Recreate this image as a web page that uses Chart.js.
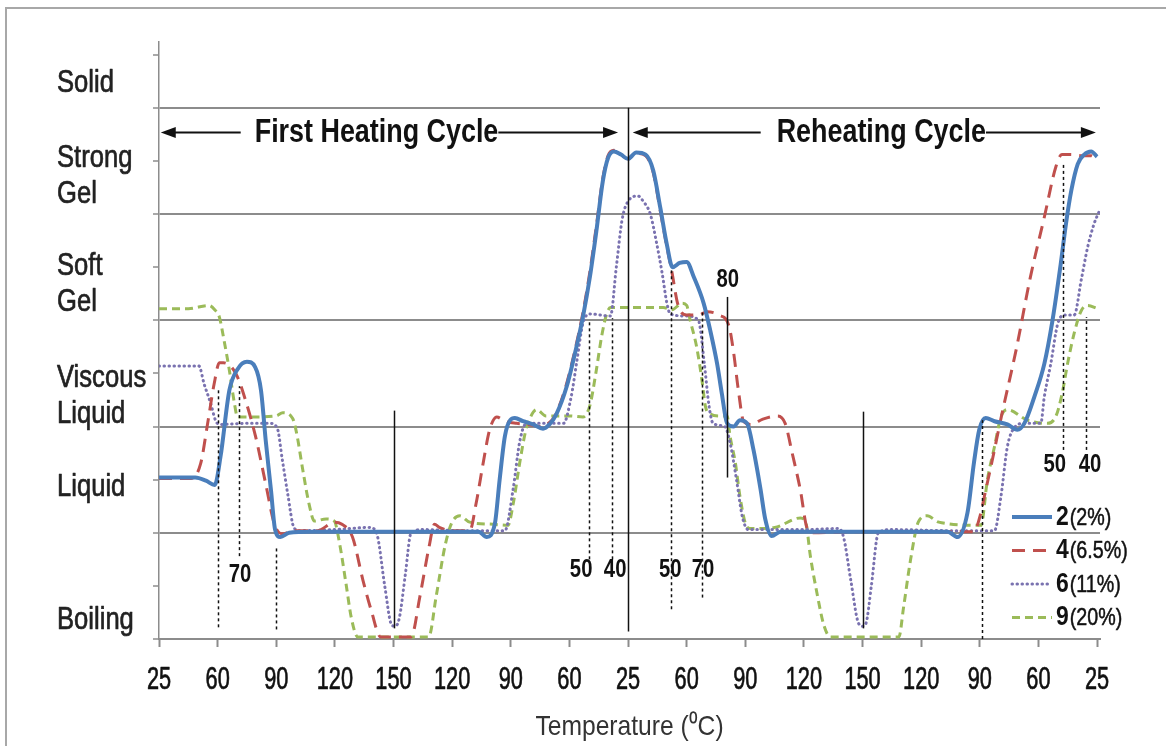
<!DOCTYPE html>
<html>
<head>
<meta charset="utf-8">
<title>Gelation states over heating cycles</title>
<script src="https://cdn.jsdelivr.net/npm/chart.js@4.4.1/dist/chart.umd.min.js"></script>
<style>
  html, body { margin: 0; padding: 0; background: #ffffff; }
  #wrap { width: 1166px; height: 746px; position: relative; }
</style>
</head>
<body>
<div id="wrap"><canvas id="chart" width="1166" height="746"></canvas></div>
<script>
// Temperature at each step of the sweep (heat to 150, cool to 25, reheat, cool again)
const tempTicks = [25, 60, 90, 120, 150, 120, 90, 60, 25, 60, 90, 120, 150, 120, 90, 60, 25];

// State scale: 0 boiling ... 5 solid
const stateNames = [['Solid'], ['Strong', 'Gel'], ['Soft', 'Gel'], ['Viscous', 'Liquid'], ['Liquid'], ['Boiling']];
const seriesLabels = ['2 (2%)', '4 (6.5%)', '6 (11%)', '9 (20%)'];
const axisTitle = 'Temperature (\u2070C)';

// [sweep position, state] for each sample
const curve2 = [
  [0, 1.52], [0.35, 1.52], [0.62, 1.52], [0.8, 1.49], [0.95, 1.45], [1.05, 1.72], [1.2, 2.34], [1.34, 2.54],
  [1.5, 2.61], [1.64, 2.56], [1.74, 2.34], [1.82, 1.87], [1.91, 1.4], [1.98, 1.03], [2.07, 0.96], [2.22, 1.0],
  [2.6, 1.01], [3.5, 1.01], [4.5, 1.01], [5.45, 1.01], [5.59, 0.96], [5.73, 1.09], [5.81, 1.5], [5.9, 1.91],
  [5.99, 2.06], [6.07, 2.08], [6.21, 2.05], [6.38, 2.02], [6.55, 1.98], [6.66, 2.02], [6.78, 2.12], [6.95, 2.37],
  [7.12, 2.75], [7.23, 3.03], [7.35, 3.41], [7.46, 3.84], [7.57, 4.31], [7.66, 4.53], [7.76, 4.59], [7.88, 4.56],
  [8.0, 4.52], [8.14, 4.58], [8.3, 4.56], [8.43, 4.41], [8.55, 4.06], [8.66, 3.72], [8.76, 3.5], [8.88, 3.54],
  [9.0, 3.55], [9.12, 3.41], [9.29, 3.16], [9.4, 2.91], [9.52, 2.59], [9.6, 2.31], [9.69, 2.03], [9.8, 2.0],
  [9.91, 2.06], [10.03, 2.03], [10.14, 1.78], [10.26, 1.41], [10.34, 1.13], [10.45, 0.97], [10.6, 1.01],
  [11.5, 1.01], [12.5, 1.01], [13.45, 1.01], [13.62, 0.96], [13.79, 1.19], [13.9, 1.66], [13.99, 1.97],
  [14.1, 2.08], [14.25, 2.05], [14.47, 2.02], [14.64, 1.97], [14.76, 2.03], [14.93, 2.28], [15.1, 2.59],
  [15.24, 3.0], [15.38, 3.53], [15.47, 3.91], [15.56, 4.22], [15.67, 4.47], [15.78, 4.56], [15.9, 4.59], [16.0, 4.54]
];
const curve4 = [
  [0, 1.51], [0.3, 1.51], [0.55, 1.51], [0.71, 1.65], [0.83, 2.03], [0.94, 2.4], [1.03, 2.6], [1.1, 2.6],
  [1.31, 2.5], [1.48, 2.24], [1.65, 1.9], [1.82, 1.46], [1.97, 1.08], [2.1, 0.99], [2.3, 1.02], [2.7, 1.02],
  [3.0, 1.1], [3.12, 1.08], [3.3, 0.96], [3.48, 0.55], [3.62, 0.27], [3.78, 0.02], [4.0, 0.02], [4.3, 0.02],
  [4.45, 0.4], [4.6, 0.85], [4.7, 1.08], [4.78, 1.05], [5.0, 1.02], [5.3, 1.02], [5.41, 1.28], [5.53, 1.66],
  [5.64, 1.97], [5.76, 2.09], [5.9, 2.05], [6.1, 2.03], [6.3, 2.02], [6.5, 2.0], [6.7, 2.06], [6.78, 2.13],
  [6.95, 2.4], [7.12, 2.78], [7.23, 3.07], [7.35, 3.46], [7.46, 3.89], [7.57, 4.34], [7.66, 4.55], [7.76, 4.6],
  [7.88, 4.56], [8.0, 4.52], [8.14, 4.57], [8.3, 4.55], [8.43, 4.39], [8.55, 4.03], [8.66, 3.7], [8.75, 3.45],
  [8.85, 3.15], [9.0, 3.05], [9.2, 3.05], [9.35, 3.08], [9.55, 3.05], [9.72, 2.95], [9.8, 2.7], [9.88, 2.35],
  [9.97, 2.05], [10.1, 2.02], [10.3, 2.07], [10.55, 2.1], [10.68, 2.03], [10.8, 1.75], [10.94, 1.4],
  [11.05, 1.05], [11.15, 1.0], [12.0, 1.01], [13.0, 1.01], [13.9, 1.01], [14.0, 1.15], [14.1, 1.4], [14.2, 1.65],
  [14.37, 2.1], [14.63, 2.75], [14.86, 3.4], [15.1, 3.97], [15.3, 4.45], [15.4, 4.56], [15.55, 4.56],
  [15.75, 4.55], [15.9, 4.55], [16.0, 4.5]
];
const curve6 = [
  [0, 2.57], [0.4, 2.57], [0.68, 2.57], [0.77, 2.4], [0.88, 2.22], [0.97, 2.05], [1.05, 2.02], [1.5, 2.03],
  [1.9, 2.03], [2.02, 1.98], [2.1, 1.7], [2.2, 1.35], [2.3, 1.05], [2.4, 1.02], [3.0, 1.03], [3.6, 1.05],
  [3.72, 0.98], [3.85, 0.5], [3.97, 0.13], [4.03, 0.12], [4.1, 0.2], [4.2, 0.6], [4.3, 1.0], [4.5, 1.03],
  [5.2, 1.02], [5.9, 1.02], [6.04, 1.41], [6.15, 1.85], [6.25, 2.02], [6.4, 2.03], [6.9, 2.03], [7.03, 2.28],
  [7.12, 2.59], [7.23, 2.97], [7.35, 3.06], [7.7, 3.04], [7.8, 3.5], [7.9, 3.95], [8.0, 4.12], [8.17, 4.17],
  [8.26, 4.12], [8.38, 4.0], [8.49, 3.72], [8.58, 3.45], [8.66, 3.17], [8.72, 3.06], [9.0, 3.04], [9.2, 3.0],
  [9.3, 2.6], [9.38, 2.2], [9.45, 2.03], [9.65, 2.0], [9.74, 1.85], [9.85, 1.5], [9.95, 1.15], [10.05, 1.03],
  [11.0, 1.03], [11.6, 1.04], [11.68, 0.95], [11.8, 0.55], [11.93, 0.15], [12.0, 0.12], [12.06, 0.15],
  [12.15, 0.5], [12.27, 1.0], [12.5, 1.03], [13.5, 1.02], [14.25, 1.02], [14.36, 1.34], [14.47, 1.81],
  [14.59, 1.99], [14.76, 2.03], [15.04, 2.03], [15.1, 2.28], [15.21, 2.59], [15.33, 2.97], [15.45, 3.05],
  [15.61, 3.05], [15.73, 3.38], [15.84, 3.69], [15.95, 3.91], [16.04, 4.03]
];
const curve9 = [
  [0, 3.11], [0.5, 3.11], [0.85, 3.14], [0.95, 3.1], [1.03, 3.03], [1.11, 2.81], [1.2, 2.53], [1.28, 2.24],
  [1.34, 2.09], [1.6, 2.09], [2.0, 2.1], [2.11, 2.13], [2.25, 2.1], [2.3, 2.05], [2.36, 1.9], [2.45, 1.6],
  [2.56, 1.27], [2.65, 1.11], [2.85, 1.13], [2.99, 1.11], [3.08, 0.9], [3.19, 0.52], [3.28, 0.2], [3.39, 0.02],
  [4.0, 0.02], [4.6, 0.02], [4.73, 0.41], [4.88, 0.88], [4.99, 1.09], [5.13, 1.16], [5.3, 1.1], [5.7, 1.08],
  [5.95, 1.07], [6.05, 1.3], [6.15, 1.65], [6.25, 1.95], [6.32, 2.07], [6.44, 2.16], [6.6, 2.1], [7.0, 2.1],
  [7.23, 2.09], [7.35, 2.2], [7.45, 2.5], [7.55, 2.85], [7.63, 3.05], [7.7, 3.12], [8.0, 3.12], [8.6, 3.12],
  [8.75, 3.1], [8.92, 3.16], [9.0, 3.14], [9.06, 3.0], [9.17, 2.75], [9.26, 2.44], [9.32, 2.19], [9.37, 2.13],
  [9.57, 2.1], [9.69, 2.1], [9.74, 1.91], [9.83, 1.66], [9.91, 1.34], [10.0, 1.09], [10.08, 1.04], [10.5, 1.05],
  [10.94, 1.14], [11.03, 1.1], [11.11, 0.78], [11.23, 0.41], [11.34, 0.13], [11.45, 0.02], [12.0, 0.02],
  [12.62, 0.02], [12.7, 0.3], [12.82, 0.75], [12.95, 1.1], [13.1, 1.16], [13.3, 1.1], [14.02, 1.07],
  [14.13, 1.5], [14.25, 1.81], [14.36, 2.09], [14.47, 2.16], [14.81, 2.06], [15.16, 2.03], [15.3, 2.1],
  [15.4, 2.3], [15.5, 2.6], [15.61, 2.88], [15.73, 3.09], [15.84, 3.14], [16.01, 3.11]
];

// Temperature readings marked on the sweep: [position, low state, high state]
const dottedMarks = [
  [1.0, 0.11, 2.35], [1.37, 0.78, 2.38], [2.0, 0.09, 0.87],
  [7.33, 0.75, 3.0], [7.73, 0.75, 3.02],
  [8.73, 0.28, 3.47], [9.27, 0.39, 3.1],
  [14.03, 0.0, 2.06],
  [15.42, 1.78, 4.48], [15.81, 1.78, 3.03]
];
const solidMarks = [[4.01, 0.1, 2.15], [8.0, 0.07, 5.0], [9.68, 1.52, 3.22], [12.01, 0.1, 2.14]];
const markTexts = [
  ['70', 1.38, 0.6], ['50', 7.2, 0.65], ['40', 7.78, 0.65], ['50', 8.72, 0.65], ['70', 9.28, 0.65],
  ['80', 9.7, 3.38], ['50', 15.28, 1.64], ['40', 15.88, 1.64]
];
const cycles = [
  { text: 'First Heating Cycle', from: 0.03, to: 7.83, center: 3.71, gapLeft: 14, gapRight: 0 },
  { text: 'Reheating Cycle', from: 8.08, to: 15.98, center: 12.32, gapLeft: 16, gapRight: 0 }
];
const yTickVals = [0, 0.5, 1, 1.5, 2, 2.5, 3, 3.5, 4, 4.5, 5, 5.5];

// Label line centres (state units) for the left-hand state names
const stateLabelAt = [[5.23], [4.53, 4.19], [3.51, 3.17], [2.46, 2.12], [1.43], [0.18]];
const cycleArrowY = 4.77;

const FONT = "'Liberation Sans',Arial,sans-serif";
const GRID = '#8c8c8c';

const toPts = arr => arr.map(([x, y]) => ({ x, y }));

// Condensed text: the face is squeezed horizontally by sx, optionally thickened by a thin outline
function narrowText(ctx, text, x, y, size, sx, weight, align, color, thicken) {
  ctx.save();
  ctx.font = (weight ? weight + ' ' : '') + size + 'px ' + FONT;
  ctx.textBaseline = 'middle';
  ctx.textAlign = align || 'center';
  ctx.fillStyle = color || '#111';
  ctx.translate(x, y);
  ctx.scale(sx, 1);
  ctx.fillText(text, 0, 0);
  if (thicken) {
    ctx.strokeStyle = color || '#111';
    ctx.lineWidth = thicken;
    ctx.lineJoin = 'round';
    ctx.strokeText(text, 0, 0);
  }
  const w = ctx.measureText(text).width * sx;
  ctx.restore();
  return w;
}

function arrowHead(ctx, x, y, dir) {
  ctx.beginPath();
  ctx.moveTo(x, y);
  ctx.lineTo(x - dir * 15, y - 5.5);
  ctx.lineTo(x - dir * 15, y + 5.5);
  ctx.closePath();
  ctx.fill();
}

const decor = {
  id: 'decor',
  beforeDraw(chart) {
    const ctx = chart.ctx;
    ctx.save();
    ctx.strokeStyle = '#a8a8a8';
    ctx.lineWidth = 2;
    ctx.beginPath();
    ctx.moveTo(6, 746);
    ctx.lineTo(6, 8);
    ctx.lineTo(1166, 8);
    ctx.stroke();
    ctx.restore();
  },
  afterDatasetsDraw(chart) {
    const { ctx, scales: { x, y } } = chart;
    ctx.save();
    ctx.strokeStyle = '#111';
    ctx.lineWidth = 1.5;
    ctx.setLineDash([3, 3]);
    dottedMarks.forEach(([p, lo, hi]) => {
      const px = Math.round(x.getPixelForValue(p)) + 0.5;
      ctx.beginPath();
      ctx.moveTo(px, y.getPixelForValue(lo));
      ctx.lineTo(px, y.getPixelForValue(hi));
      ctx.stroke();
    });
    ctx.setLineDash([]);
    solidMarks.forEach(([p, lo, hi]) => {
      const px = Math.round(x.getPixelForValue(p)) + 0.5;
      ctx.beginPath();
      ctx.moveTo(px, y.getPixelForValue(lo));
      ctx.lineTo(px, y.getPixelForValue(hi));
      ctx.stroke();
    });
    ctx.restore();

    // temperature numbers
    markTexts.forEach(([t, p, v]) =>
      narrowText(ctx, t, x.getPixelForValue(p), y.getPixelForValue(v), 26, 0.78, 'bold', 'center', '#111'));
  },
  afterDraw(chart) {
    const { ctx, scales: { x, y }, chartArea } = chart;

    // temperature tick labels under the axis
    x.ticks.forEach(t => {
      narrowText(ctx, String(tempTicks[t.value]), x.getPixelForValue(t.value), chartArea.bottom + 41, 32, 0.68, '', 'center', '#111', 0.7);
    });
    // axis title
    narrowText(ctx, axisTitle, (chartArea.left + chartArea.right) / 2, chartArea.bottom + 88, 28, 0.88, '', 'center', '#333');

    // state names on the left
    stateNames.forEach((lines, i) => {
      lines.forEach((line, j) =>
        narrowText(ctx, line, 57, y.getPixelForValue(stateLabelAt[i][j]), 32, 0.8, '', 'left', '#222', 0.7));
    });

    // cycle arrows with titles
    ctx.save();
    const ay = Math.round(y.getPixelForValue(cycleArrowY)) + 0.5;
    ctx.fillStyle = '#111';
    ctx.strokeStyle = '#111';
    ctx.lineWidth = 2;
    cycles.forEach(c => {
      const x0 = x.getPixelForValue(c.from);
      const x1 = x.getPixelForValue(c.to);
      const cx = x.getPixelForValue(c.center);
      const w = narrowText(ctx, c.text, cx, ay, 33, 0.815, 'bold', 'center', '#111');
      ctx.beginPath();
      ctx.moveTo(x0 + 10, ay);
      ctx.lineTo(cx - w / 2 - c.gapLeft, ay);
      ctx.moveTo(cx + w / 2 + c.gapRight, ay);
      ctx.lineTo(x1 - 10, ay);
      ctx.stroke();
      arrowHead(ctx, x0, ay, -1);
      arrowHead(ctx, x1, ay, 1);
    });
    ctx.restore();

    // legend, lower right inside the plot
    const sx0 = chartArea.right - 88;
    const sx1 = chartArea.right - 48;
    chart.data.datasets.forEach((ds, i) => {
      const ry = chartArea.bottom - 122 + i * 33.5;
      ctx.save();
      ctx.strokeStyle = ds.borderColor;
      ctx.lineWidth = ds.borderWidth;
      ctx.lineCap = ds.borderCapStyle || 'butt';
      ctx.setLineDash(ds.borderDash || []);
      ctx.beginPath();
      ctx.moveTo(sx0, ry);
      ctx.lineTo(sx1, ry);
      ctx.stroke();
      ctx.restore();
      const [num, pct] = ds.label.split(' ');
      const nw = narrowText(ctx, num, sx1 + 4, ry, 28, 0.82, 'bold', 'left', '#111');
      narrowText(ctx, pct, sx1 + 5 + nw, ry + 1, 24, 0.82, '', 'left', '#111', 0.5);
    });
  }
};

const lineStyle = { pointRadius: 0, fill: false, cubicInterpolationMode: 'monotone' };

new Chart(document.getElementById('chart'), {
  type: 'line',
  data: {
    datasets: [
      { ...lineStyle, label: seriesLabels[0], data: toPts(curve2), borderColor: '#4a7ebb', borderWidth: 4 },
      { ...lineStyle, label: seriesLabels[1], data: toPts(curve4), borderColor: '#c0504d', borderWidth: 3, borderDash: [13, 8] },
      { ...lineStyle, label: seriesLabels[2], data: toPts(curve6), borderColor: '#7a72b0', borderWidth: 3, borderDash: [0.5, 4.5], borderCapStyle: 'round' },
      { ...lineStyle, label: seriesLabels[3], data: toPts(curve9), borderColor: '#9bbb59', borderWidth: 3, borderDash: [8, 5] }
    ]
  },
  options: {
    responsive: false,
    animation: false,
    devicePixelRatio: 1,
    layout: { padding: { top: 42, right: 66, left: 0, bottom: 0 } },
    plugins: { legend: { display: false }, tooltip: { enabled: false } },
    scales: {
      x: {
        type: 'linear',
        min: 0,
        max: 16.05,
        afterBuildTicks: s => { s.ticks = tempTicks.map((t, i) => ({ value: i })); },
        afterFit: s => { s.height = 107; },
        ticks: { display: false, autoSkip: false, maxRotation: 0 },
        grid: { drawOnChartArea: false, drawTicks: true, tickLength: 8, tickColor: GRID, tickWidth: 2 },
        border: { display: true, color: GRID, width: 2 },
        title: { display: false }
      },
      y: {
        min: 0,
        max: 5.62,
        afterBuildTicks: s => { s.ticks = yTickVals.map(v => ({ value: v })); },
        afterFit: s => { s.width = 159; },
        ticks: { display: false },
        grid: {
          color: c => (c.tick && Number.isInteger(c.tick.value)) ? GRID : 'rgba(0,0,0,0)',
          lineWidth: 2,
          tickColor: GRID,
          tickLength: 6,
          tickWidth: 1.5
        },
        border: { display: true, color: GRID, width: 1.5 }
      }
    }
  },
  plugins: [decor]
});
</script>
</body>
</html>
